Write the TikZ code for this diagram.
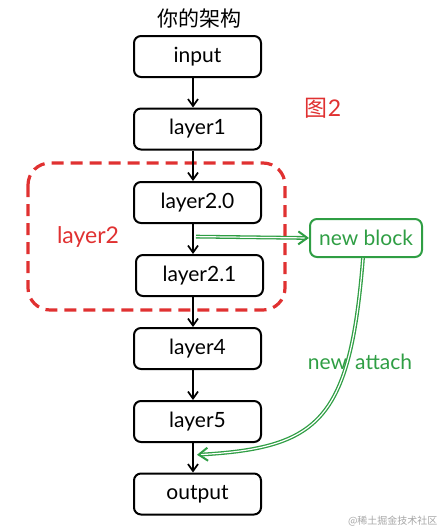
\documentclass[tikz,border=0pt]{standalone}
\usepackage{fontspec}
\setmainfont{Lato}
\newfontfamily\cjk{Noto Sans CJK SC}
\usetikzlibrary{arrows.meta}
\definecolor{myred}{HTML}{E03131}
\definecolor{mygreen}{HTML}{2F9E44}
\tikzset{
  blk/.style={draw=black, line width=2pt, rounded corners=7pt, minimum width=127pt, minimum height=41pt, font=\fontsize{21}{24}\selectfont, inner sep=0pt},
  flow/.style={draw=black, line width=1.7pt, -{Straight Barb[length=7pt,width=10pt,line width=1.7pt]}},
  gbox/.style={draw=mygreen, line width=2pt, rounded corners=7pt, minimum width=112pt, minimum height=38pt, text=mygreen, font=\fontsize{21}{24}\selectfont, inner sep=0pt},
  garrow/.style={draw=mygreen, line width=1.3pt, double=white, double distance=1.2pt, -{Straight Barb[length=9pt,width=13pt,line width=2pt]}},
  redtxt/.style={text=myred, font=\fontsize{23}{26}\selectfont},
}
\begin{document}
\begin{tikzpicture}[x=1pt,y=-1pt]
\useasboundingbox (0,0) rectangle (443,530);
\node[font=\cjk\fontsize{21}{24}\selectfont] (title) at (199,18) {你的架构};
\node[blk] (in) at (197.5,56.5) {input};
\node[blk] (l1) at (197.5,129) {layer1};
\node[blk] (l20) at (197.5,202.5) {layer2.0};
\node[blk] (l21) at (199.5,275.5) {layer2.1};
\node[blk] (l4) at (197.5,348.5) {layer4};
\node[blk] (l5) at (197.5,421.5) {layer5};
\node[blk] (out) at (197.5,494) {output};
\draw[myred, line width=3.2pt, dash pattern=on 12pt off 7pt, rounded corners=22pt] (28,163) rectangle (285,310);
\node[redtxt] (lay2) at (88,237) {layer2};
\node[redtxt] (fig2) at (323,108) {{\cjk 图}2};
\node[gbox] (nb) at (366,238) {new block};
\draw[flow] (in.south -| 193,0) -- (l1.north -| 193,0);
\draw[flow] (l1.south -| 193,0) -- (l20.north -| 193,0);
\draw[flow] (l20.south -| 193,0) -- coordinate[pos=0.42] (gs) (l21.north -| 193,0);
\draw[flow] (l21.south -| 193,0) -- (l4.north -| 193,0);
\draw[flow] (l4.south -| 193,0) -- (l5.north -| 193,0);
\draw[flow] (l5.south -| 193,0) -- coordinate[pos=0.4] (ge) (out.north -| 193,0);
\draw[garrow] ([xshift=3pt]gs) -- (nb.west);
\draw[garrow] (nb.south -| 363,0) .. controls (350,420) and (320,448) .. ([xshift=4pt]ge);
\node[text=mygreen, font=\fontsize{21}{24}\selectfont] (na) at (360,362) {new\hspace{8pt}attach};
\node[text=black!35, font=\cjk\fontsize{10}{12}\selectfont, anchor=east] (wm) at (441,521) {@稀土掘金技术社区};
\end{tikzpicture}
\end{document}
